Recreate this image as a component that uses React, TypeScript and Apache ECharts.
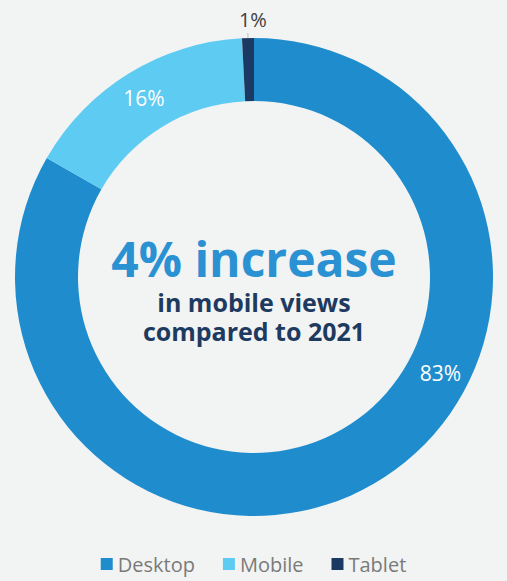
import React, { useEffect, useRef } from "react";
import * as echarts from "echarts";

const categories = ["Desktop", "Mobile", "Tablet"];
const shares = [83.3, 15.9, 0.8];
const colors = ["#1f8dcd", "#5ecbf2", "#1b3a63"];
const headline = "4% increase";
const sublines = ["in mobile views", "compared to 2021"];

const FONT = "'Open Sans', 'Liberation Sans', sans-serif";

export default function App() {
  const ref = useRef<HTMLDivElement>(null);
  useEffect(() => {
    if (!ref.current) return;
    const chart = echarts.init(ref.current, undefined, { renderer: "svg" });
    const cx = 254;
    const cy = 277;
    chart.setOption({
      animation: false,
      backgroundColor: "#f2f3f3",
      color: colors,
      legend: {
        data: categories,
        left: "center",
        top: 547,
        icon: "rect",
        itemWidth: 12,
        itemHeight: 12,
        itemGap: 28,
        textStyle: { fontFamily: FONT, fontSize: 20, color: "#7a7a7a", lineHeight: 24 },
      },
      graphic: [
        {
          type: "text",
          x: cx,
          y: 287,
          style: {
            text:
              `{a|${headline}}\n` + sublines.map((s) => `{b|${s}}`).join("\n"),
            align: "center",
            verticalAlign: "middle",
            rich: {
              a: {
                fontFamily: FONT,
                fontWeight: "bold",
                fontSize: 48,
                lineHeight: 59,
                fill: "#2a92d2",
                color: "#2a92d2",
                align: "center",
              },
              b: {
                fontFamily: FONT,
                fontWeight: "bold",
                fontSize: 25,
                lineHeight: 29,
                fill: "#1e3a5f",
                color: "#1e3a5f",
                align: "center",
              },
            },
          },
        },
      ],
      series: [
        {
          type: "pie",
          center: [cx, cy],
          radius: [176, 239],
          startAngle: 90,
          clockwise: true,
          percentPrecision: 0,
          avoidLabelOverlap: false,
          label: {
            show: true,
            position: "inside",
            formatter: "{d}%",
            color: "#ffffff",
            fontFamily: FONT,
            fontSize: 21,
          },
          labelLine: { show: false },
          labelLayout: (params: any) => {
            if (params.dataIndex === 0) return { dx: 81, dy: -86 };
            return {};
          },
          data: categories.map((name, i) => {
            const item: any = { name, value: shares[i] };
            if (i === 2) item.label = { show: false };
            return item;
          }),
        },
        {
          type: "pie",
          silent: true,
          center: [cx, cy],
          radius: [0, 210],
          startAngle: 90,
          clockwise: true,
          percentPrecision: 0,
          avoidLabelOverlap: false,
          itemStyle: { color: "rgba(0,0,0,0)" },
          label: {
            show: false,
            position: "outside",
            formatter: "{d}%",
            color: "#404040",
            fontFamily: FONT,
            fontSize: 20,
          },
          labelLine: {
            show: false,
            length: 34,
            length2: 0,
            lineStyle: { color: "#c8c8c8", width: 1.2 },
          },
          labelLayout: (params: any) => {
            if (params.dataIndex === 2) return { dx: 24, dy: -14 };
            return {};
          },
          data: categories.map((name, i) => {
            const item: any = { name, value: shares[i] };
            if (i === 2) {
              item.label = { show: true };
              item.labelLine = { show: true };
            }
            return item;
          }),
        },
      ],
    });
    return () => chart.dispose();
  }, []);
  return (
    <div
      ref={ref}
      style={{ position: "absolute", left: 0, top: 0, width: 507, height: 581 }}
    />
  );
}
